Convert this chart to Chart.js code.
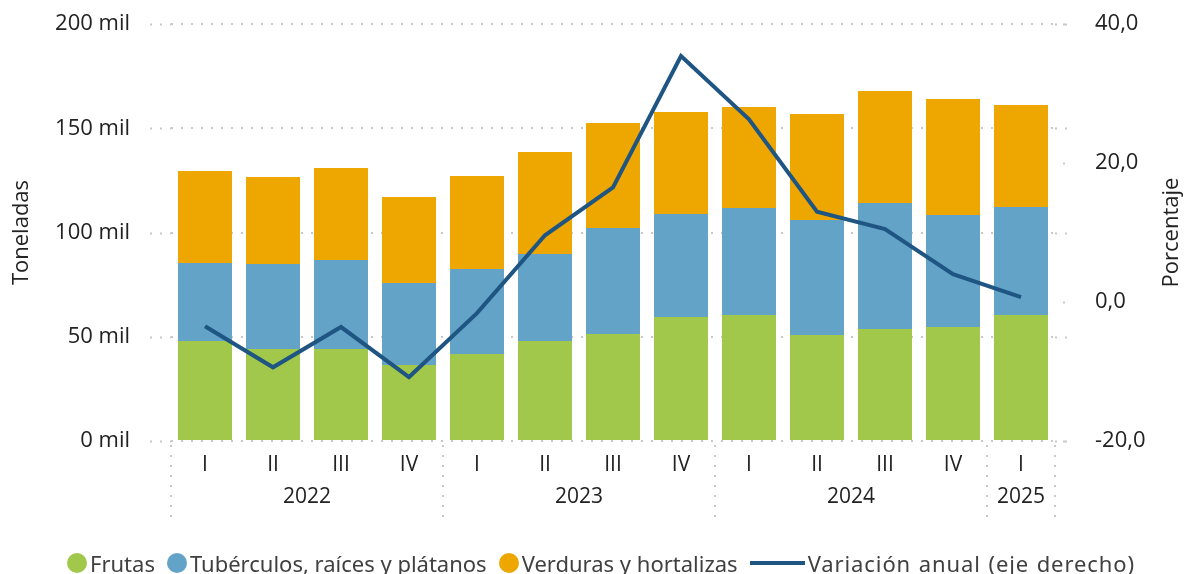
<!DOCTYPE html>
<html>
<head>
<meta charset="utf-8">
<script src="https://cdn.jsdelivr.net/npm/chart.js@4.4.1/dist/chart.umd.min.js"></script>
<style>
  body { margin: 0; background: #fff; }
  #wrap { position: relative; width: 1186px; height: 574px; }
  #legend {
    position: absolute; left: 0; top: 550px; width: 1186px; height: 26px;
    display: flex; align-items: center; padding-left: 67px; box-sizing: border-box;
    font-family: "Noto Sans", sans-serif; font-size: 22px; color: #404040; white-space: nowrap;
  }
  .item { display: flex; align-items: center; margin-right: 12px; }
  .item.wide { letter-spacing: 0.9px; word-spacing: 1px; }
  .dot { width: 20px; height: 20px; border-radius: 50%; margin-right: 3px; }
  .line { width: 55px; height: 4px; margin-right: 3px; }
</style>
</head>
<body>
<div id="wrap">
  <canvas id="chart" width="1186" height="574"></canvas>
  <div id="legend"></div>
</div>
<script>
const quarters = ["I", "II", "III", "IV", "I", "II", "III", "IV", "I", "II", "III", "IV", "I"];
const years = ["2022", "2022", "2022", "2022", "2023", "2023", "2023", "2023", "2024", "2024", "2024", "2024", "2025"];

// toneladas
const frutas = [48000, 44100, 44100, 36500, 41700, 48000, 51300, 59500, 60400, 50800, 53700, 54700, 60400];
const tuberculos = [37400, 40800, 42700, 39300, 40800, 41700, 50900, 49400, 51400, 55200, 60400, 53700, 51800];
const verduras = [44100, 41700, 44100, 41200, 44600, 48900, 50300, 48900, 48400, 50800, 53800, 55600, 49000];
// porcentaje
const variacion = [-3.5, -9.4, -3.6, -10.8, -1.6, 9.6, 16.5, 35.4, 26.3, 13.0, 10.5, 4.0, 0.7];

const GREEN = "#a2c84b";
const BLUE = "#64a3c8";
const ORANGE = "#eea600";
const NAVY = "#1f5583";
const GRID = "#c8c8c8";
const FONT = "Open Sans";

const legendItems = [
  { label: "Frutas", color: GREEN, type: "dot" },
  { label: "Tubérculos, raíces y plátanos", color: BLUE, type: "dot" },
  { label: "Verduras y hortalizas", color: ORANGE, type: "dot" },
  { label: "Variación anual (eje derecho)", color: NAVY, type: "line" }
];

const legendEl = document.getElementById("legend");
legendItems.forEach(it => {
  const d = document.createElement("div");
  d.className = it.type === "line" ? "item wide" : "item";
  d.innerHTML = `<span class="${it.type}" style="background:${it.color}"></span><span>${it.label}</span>`;
  legendEl.appendChild(d);
});

function dotted(ctx, x1, y1, x2, y2) {
  ctx.beginPath();
  ctx.moveTo(x1, y1);
  ctx.lineTo(x2, y2);
  ctx.stroke();
}

// marcas punteadas, titulo derecho y etiquetas de año
const extras = {
  id: "extras",
  afterDraw(chart) {
    const ctx = chart.ctx;
    const area = chart.chartArea;
    const x = chart.scales.x;
    const y = chart.scales.y;
    const y1 = chart.scales.y1;

    ctx.save();
    ctx.strokeStyle = GRID;
    ctx.lineWidth = 2;
    ctx.setLineDash([2, 8]);

    // marcas a los lados del area
    y.ticks.forEach(t => {
      const py = Math.round(y.getPixelForValue(t.value)) + 0.5;
      dotted(ctx, area.left - 21, py, area.left, py);
      dotted(ctx, area.right, py, area.right + 17, py);
    });
    y1.ticks.forEach(t => {
      const py = Math.round(y1.getPixelForValue(t.value)) + 0.5;
      dotted(ctx, area.right + 8, py, area.right + 17, py);
    });

    // separadores de año
    const bounds = [area.left];
    for (let i = 1; i < years.length; i++) {
      if (years[i] !== years[i - 1]) {
        bounds.push((x.getPixelForValue(i - 1) + x.getPixelForValue(i)) / 2);
      }
    }
    bounds.push(area.right);
    bounds.forEach(bx => dotted(ctx, Math.round(bx), area.bottom + 4, Math.round(bx), area.bottom + 80));

    // etiquetas de año
    ctx.setLineDash([]);
    ctx.fillStyle = "#222";
    ctx.font = `21px "${FONT}"`;
    ctx.textAlign = "center";
    ctx.textBaseline = "middle";
    let start = 0;
    for (let i = 1; i <= years.length; i++) {
      if (i === years.length || years[i] !== years[start]) {
        const cx = (x.getPixelForValue(start) + x.getPixelForValue(i - 1)) / 2;
        ctx.fillText(years[start], cx, area.bottom + 56);
        start = i;
      }
    }

    // titulo eje derecho (girado como el izquierdo)
    ctx.translate(1172, (area.top + area.bottom) / 2);
    ctx.rotate(-Math.PI / 2);
    ctx.font = `22px "${FONT}"`;
    ctx.fillText("Porcentaje", 0, 0);
    ctx.restore();
  }
};

new Chart(document.getElementById("chart"), {
  data: {
    labels: quarters,
    datasets: [
      {
        type: "line",
        label: "Variación anual (eje derecho)",
        data: variacion,
        yAxisID: "y1",
        borderColor: NAVY,
        borderWidth: 4,
        pointRadius: 0,
        tension: 0,
        order: 0
      },
      {
        type: "bar",
        label: "Frutas",
        data: frutas,
        backgroundColor: GREEN,
        yAxisID: "y",
        order: 1
      },
      {
        type: "bar",
        label: "Tubérculos, raíces y plátanos",
        data: tuberculos,
        backgroundColor: BLUE,
        yAxisID: "y",
        order: 1
      },
      {
        type: "bar",
        label: "Verduras y hortalizas",
        data: verduras,
        backgroundColor: ORANGE,
        yAxisID: "y",
        order: 1
      }
    ]
  },
  options: {
    responsive: false,
    animation: false,
    datasets: {
      bar: { categoryPercentage: 1, barPercentage: 0.794 }
    },
    layout: { padding: { top: 24 } },
    plugins: {
      legend: { display: false },
      tooltip: { enabled: false }
    },
    scales: {
      x: {
        stacked: true,
        grid: { display: false, drawTicks: false },
        border: { display: false },
        ticks: {
          color: "#222",
          font: { family: FONT, size: 21 },
          padding: 11,
          maxRotation: 0
        },
        afterFit(scale) { scale.height = 133; }
      },
      y: {
        stacked: true,
        position: "left",
        min: 0,
        max: 200000,
        ticks: {
          stepSize: 50000,
          color: "#222",
          font: { family: FONT, size: 22 },
          padding: 0,
          callback: v => (v / 1000) + " mil"
        },
        grid: {
          color: GRID,
          lineWidth: 2,
          tickLength: 41,
          tickColor: "rgba(0,0,0,0)"
        },
        border: { display: false, dash: [2, 8] },
        title: {
          display: true,
          text: "Toneladas",
          color: "#222",
          font: { family: FONT, size: 22 },
          padding: { top: 9, bottom: 0 }
        },
        afterFit(scale) { scale.width = 171; }
      },
      y1: {
        position: "right",
        min: -20,
        max: 40,
        ticks: {
          stepSize: 20,
          color: "#222",
          font: { family: FONT, size: 22 },
          padding: 0,
          callback: v => v.toFixed(1).replace(".", ",")
        },
        grid: {
          drawOnChartArea: false,
          tickLength: 40,
          tickColor: "rgba(0,0,0,0)"
        },
        border: { display: false },
        afterFit(scale) { scale.width = 131; }
      }
    }
  },
  plugins: [extras]
});
</script>
</body>
</html>
